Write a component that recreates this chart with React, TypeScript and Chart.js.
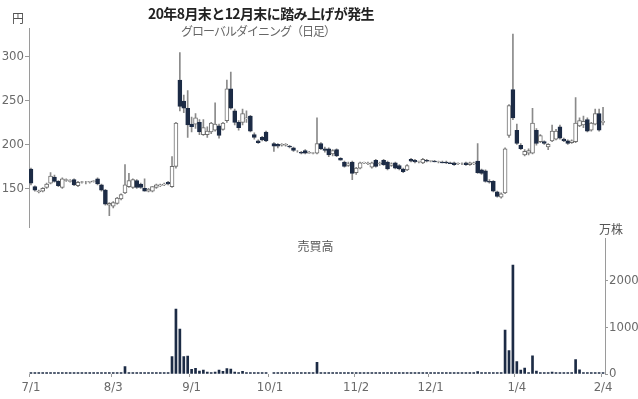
import React, { useEffect, useRef } from "react";
import { Chart, registerables } from "chart.js";
Chart.register(...registerables);

const dates: string[] = [
  "7/1","7/2","7/3","7/6","7/7","7/8","7/9","7/10","7/13","7/14","7/15","7/16","7/17","7/20","7/21","7/22","7/27","7/28","7/29","7/30","7/31",
  "8/3","8/4","8/5","8/6","8/7","8/11","8/12","8/13","8/14","8/17","8/18","8/19","8/20","8/21","8/24","8/25","8/26","8/27","8/28","8/31",
  "9/1","9/2","9/3","9/4","9/7","9/8","9/9","9/10","9/11","9/14","9/15","9/16","9/17","9/18","9/23","9/24","9/25","9/28","9/29","9/30",
  "10/1","10/2","10/5","10/6","10/7","10/8","10/9","10/12","10/13","10/14","10/15","10/16","10/19","10/20","10/21","10/22","10/23","10/26","10/27","10/28","10/29","10/30",
  "11/2","11/4","11/5","11/6","11/9","11/10","11/11","11/12","11/13","11/16","11/17","11/18","11/19","11/20","11/24","11/25","11/26","11/27","11/30",
  "12/1","12/2","12/3","12/4","12/7","12/8","12/9","12/10","12/11","12/14","12/15","12/16","12/17","12/18","12/21","12/22","12/23","12/24","12/25","12/28","12/29","12/30",
  "1/4","1/5","1/6","1/7","1/8","1/12","1/13","1/14","1/15","1/18","1/19","1/20","1/21","1/22","1/25","1/26","1/27","1/28","1/29",
  "2/1","2/2","2/3","2/4",
];

const tickDates: string[] = ["7/1", "8/3", "9/1", "10/1", "11/2", "12/1", "1/4", "2/4"];
const priceTicks: number[] = [150, 200, 250, 300];
const volumeTicks: number[] = [0, 1000, 2000];

// OHLC (円)
const open: (number | null)[] = [
  172,152,146,147,151,156,163,158,151,159,158,160,153,157,157,157,158,161,154,148,131,
  130,133,138,145,152,151,159,155,150,147,147,151,153,154,157,152,175,273,249,241,
  223,223,225,211,211,214,216,221,217,227,263,238,225,225,229,232,211,204,208,214,
  null,201,200,199,199,198,196,192,191,193,190,190,190,201,195,195,189,194,184,180,176,180,
  168,173,179,178,174,182,178,182,180,176,179,176,172,171,183,182,180,179,182,
  181,181,180,180,180,179,179,178,178,179,177,178,181,171,170,158,158,146,140,145,210,262,
  216,199,188,190,190,216,203,203,197,204,206,220,206,204,202,203,221,222,228,
  216,223,235,225,
];
const high: (number | null)[] = [
  173,153,148,151,156,168,165,159,162,161,160,161,158,158,158,158,159,162,155,149,134,
  135,140,144,177,167,161,160,156,161,150,152,155,155,156,158,186,225,304,256,261,
  231,235,228,228,220,225,247,223,225,273,282,240,227,240,238,233,213,205,209,215,
  null,202,201,201,201,199,197,193,192,194,192,191,230,202,197,196,194,195,185,181,180,181,
  174,180,180,180,180,183,180,183,181,179,180,177,173,177,184,183,181,184,183,
  182,182,181,181,181,180,180,179,179,180,180,180,201,172,171,160,159,147,145,196,245,325,
  223,201,194,195,241,218,211,204,201,222,217,222,207,205,205,253,230,232,230,
  225,240,240,242,
];
const low: (number | null)[] = [
  154,147,145,146,150,155,157,152,150,158,157,153,152,156,155,156,157,154,147,131,119,
  128,132,137,144,151,150,150,150,147,146,146,150,152,153,154,151,173,238,236,208,
  214,218,211,210,208,212,215,207,216,225,240,222,216,222,225,214,206,201,204,203,
  null,192,196,198,198,196,192,191,189,189,190,189,189,194,191,186,187,186,182,174,175,160,
  166,172,178,177,173,174,176,176,171,175,172,171,168,170,180,179,179,178,180,
  180,180,179,179,178,178,176,177,177,176,176,177,167,166,157,156,146,140,139,144,208,228,
  200,194,187,188,189,199,202,200,194,203,205,206,203,200,201,202,220,219,214,
  215,222,215,222,
];
const close: (number | null)[] = [
  156,148,147,150,155,164,158,153,161,160,159,154,157,157.5,157,158,158.5,155,148,132,133,
  134,139,143,154,159,160,151,151,147,149,152,154,154,155,155,175,224,243,241,222,
  220,230,214,219,215,224,223,210,224,263,241,225,219,235,230,215,208,202,205,204,
  null,198,198,200,200,197,193,192,190,190,191,190.5,201,195,193,188,193,187,182,175,178,167,
  173,179,179.5,178.5,179,175,178.5,177,172,178,173,172,169,176,181,180,180.5,183,181,
  181.5,180,180.5,179,179,178,177,178.5,178,177,179,179,168,167,158,157,147,141,144,195,244,230,
  201,195,192,193,224,201,210,201,200,215,215,207,204,201,204,224,227,226,215,
  224,235,216,226,
];

// 売買高 (万株)
const volume: (number | null)[] = [
  30,30,30,30,30,30,30,30,30,30,30,30,30,30,30,30,30,30,30,30,30,
  30,30,30,157,30,30,30,30,30,30,30,30,30,30,30,371,1392,964,371,385,
  100,121,60,86,40,30,40,86,57,114,107,40,30,57,30,30,30,30,30,30,
  null,30,30,30,30,30,30,30,30,30,30,30,250,30,30,30,30,30,30,30,30,30,
  30,30,30,30,30,30,30,30,30,30,30,30,30,30,30,30,30,30,30,
  30,30,30,30,30,30,30,30,30,30,30,30,50,30,30,30,30,30,30,942,500,2334,
  264,86,128,30,392,60,30,30,30,40,30,30,30,30,30,307,90,30,30,
  30,30,30,30,
];

const NAVY = "#1c2b45";
const UP_BORDER = "#6e6e6e";
const WICK = "#8a8a8a";
const AXIS = "#9a9a9a";
const TICK_TEXT = "#6a6a6a";
const TICK_FONT = "'Liberation Sans Narrow', 'DejaVu Sans Condensed', 'Roboto', sans-serif";
const JP_FONT = "'Noto Sans CJK JP', 'Noto Sans', sans-serif";

export default function App() {
  const priceRef = useRef<HTMLCanvasElement | null>(null);
  const volRef = useRef<HTMLCanvasElement | null>(null);

  useEffect(() => {
    const isUp = (i: number) => (close[i] ?? 0) >= (open[i] ?? 0);
    const wicks = dates.map((_, i) => (open[i] == null ? null : [low[i] as number, high[i] as number]));
    const bodies = dates.map((_, i) => (open[i] == null ? null : [open[i] as number, close[i] as number]));

    const priceChart = new Chart(priceRef.current as HTMLCanvasElement, {
      type: "bar",
      data: {
        labels: dates,
        datasets: [
          {
            data: wicks as any,
            backgroundColor: WICK,
            barThickness: 1,
            grouped: false,
            order: 2,
          } as any,
          {
            data: bodies as any,
            backgroundColor: dates.map((_, i) => (isUp(i) ? "#ffffff" : NAVY)),
            borderColor: dates.map((_, i) => (isUp(i) ? UP_BORDER : NAVY)),
            borderWidth: 1,
            borderSkipped: false,
            barThickness: 4,
            grouped: false,
            order: 1,
          } as any,
        ],
      },
      options: {
        responsive: false,
        animation: false,
        events: [],
        layout: { padding: { left: 0, right: 33, top: 28, bottom: 4 } },
        plugins: { legend: { display: false }, tooltip: { enabled: false }, title: { display: false } },
        scales: {
          x: { type: "category", display: false, offset: true },
          y: {
            position: "left",
            min: 106,
            max: 332,
            afterFit: (s: any) => {
              s.width = 29;
            },
            afterBuildTicks: (s: any) => {
              s.ticks = priceTicks.map((v) => ({ value: v }));
            },
            ticks: {
              color: TICK_TEXT,
              padding: 1,
              font: { family: TICK_FONT, size: 13 },
              callback: (v: any) => String(v),
            },
            grid: { drawOnChartArea: false, tickLength: 4, color: AXIS },
            border: { color: AXIS, width: 1 },
          },
        },
      } as any,
    });

    const volChart = new Chart(volRef.current as HTMLCanvasElement, {
      type: "bar",
      data: {
        labels: dates,
        datasets: [
          {
            data: volume,
            backgroundColor: NAVY,
            barThickness: 2,
          } as any,
        ],
      },
      options: {
        responsive: false,
        animation: false,
        events: [],
        layout: { padding: { left: 29, right: 0, top: 8, bottom: 0 } },
        plugins: { legend: { display: false }, tooltip: { enabled: false } },
        scales: {
          x: {
            type: "category",
            offset: true,
            afterFit: (s: any) => {
              s.height = 25;
            },
            ticks: {
              autoSkip: false,
              maxRotation: 0,
              minRotation: 0,
              padding: 3,
              color: TICK_TEXT,
              font: { family: TICK_FONT, size: 13 },
              callback: (_v: any, i: number) => (tickDates.includes(dates[i]) ? dates[i] : ""),
            },
            grid: {
              drawOnChartArea: false,
              tickLength: 3,
              color: (ctx: any) => (ctx.tick && tickDates.includes(dates[ctx.index]) ? AXIS : "rgba(0,0,0,0)"),
            },
            border: { display: false },
          },
          y: {
            position: "right",
            min: 0,
            max: 2900,
            afterFit: (s: any) => {
              s.width = 33;
            },
            afterBuildTicks: (s: any) => {
              s.ticks = volumeTicks.map((v) => ({ value: v }));
            },
            ticks: {
              color: TICK_TEXT,
              padding: 1,
              font: { family: TICK_FONT, size: 13 },
              callback: (v: any) => String(v),
            },
            grid: { drawOnChartArea: false, tickLength: 3, color: AXIS },
            border: { color: AXIS, width: 1 },
          },
        },
      } as any,
    });

    return () => {
      priceChart.destroy();
      volChart.destroy();
    };
  }, []);

  const label = (text: string, style: React.CSSProperties) => (
    <div style={{ position: "absolute", whiteSpace: "nowrap", fontFamily: JP_FONT, ...style }}>{text}</div>
  );

  return (
    <div style={{ position: "fixed", left: 0, top: 0, width: 638, height: 399, background: "#ffffff", overflow: "hidden" }}>
      <canvas ref={volRef} width={638} height={169} style={{ position: "absolute", left: 0, top: 230, display: "block" }} />
      <canvas ref={priceRef} width={638} height={236} style={{ position: "absolute", left: 0, top: 0, display: "block" }} />
      {label("20年8月末と12月末に踏み上げが発生", {
        left: 261, top: 5, transform: "translateX(-50%)", fontSize: 14, lineHeight: "16px", fontWeight: 700, color: "#222", letterSpacing: "-0.6px",
      })}
      {label("グローバルダイニング（日足）", {
        left: 258, top: 24, transform: "translateX(-50%)", fontSize: 12, lineHeight: "14px", color: "#666", letterSpacing: "-1px",
      })}
      {label("円", { left: 12, top: 11, fontSize: 12, lineHeight: "14px", color: "#555" })}
      {label("売買高", { left: 315.5, top: 239, transform: "translateX(-50%)", fontSize: 12, lineHeight: "14px", color: "#555" })}
      {label("万株", { left: 599, top: 222, fontSize: 12, lineHeight: "14px", color: "#555" })}
    </div>
  );
}
